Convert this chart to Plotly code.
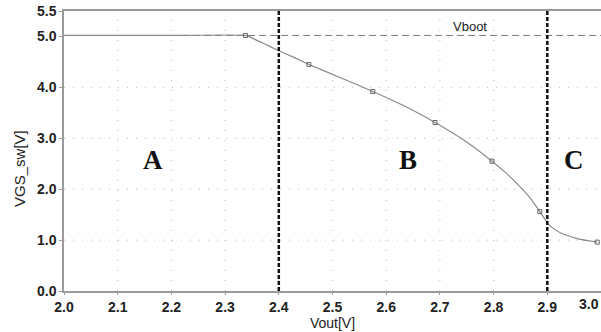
import plotly.graph_objects as go

# Gate drive voltage of the switch versus output voltage
vout = [2.00, 2.20, 2.338, 2.37, 2.40, 2.43, 2.456, 2.515, 2.575, 2.635, 2.691,
        2.745, 2.797, 2.825, 2.850, 2.870, 2.886, 2.900, 2.910, 2.925, 2.940,
        2.955, 2.975, 2.993]
vgs = [5.02, 5.02, 5.02, 4.87, 4.72, 4.58, 4.45, 4.19, 3.92, 3.63, 3.31,
       2.96, 2.55, 2.30, 2.04, 1.80, 1.56, 1.34, 1.24, 1.14, 1.08,
       1.03, 0.99, 0.96]

# Sampled simulation points shown with square markers
mark_x = [2.338, 2.456, 2.575, 2.691, 2.797, 2.886, 2.993]
mark_y = [5.02, 4.45, 3.92, 3.31, 2.55, 1.56, 0.96]

# Bootstrap supply level
vboot_x = [2.22, 3.02]
vboot_y = [5.02, 5.02]

# Region boundaries and region names
bounds = [2.4, 2.9]
region_names = ["A", "B", "C"]
region_x = [2.166, 2.64, 2.95]
region_y = [2.57, 2.57, 2.57]

x_ticks = [2.0, 2.1, 2.2, 2.3, 2.4, 2.5, 2.6, 2.7, 2.8, 2.9, 3.0]
y_ticks = [0.0, 1.0, 2.0, 3.0, 4.0, 5.0, 5.5]

grid_col = "#b8b8b8"
curve_col = "#8a8a8a"
text_col = "#222222"

fig = go.Figure()

# dotted grid
for gx in x_ticks[1:-1]:
    fig.add_trace(go.Scatter(x=[gx, gx], y=[0, 5.5], mode="lines",
                             line=dict(color=grid_col, width=1, dash="1px,9px"),
                             hoverinfo="skip", showlegend=False))
for gy in y_ticks[1:5]:
    fig.add_trace(go.Scatter(x=[2.0, 3.0], y=[gy, gy], mode="lines",
                             line=dict(color=grid_col, width=1, dash="1px,8px"),
                             hoverinfo="skip", showlegend=False))

fig.add_trace(go.Scatter(x=vboot_x, y=vboot_y, mode="lines",
                         line=dict(color="#7a7a7a", width=1, dash="7px,4px"),
                         showlegend=False))

fig.add_trace(go.Scatter(x=vout, y=vgs, mode="lines",
                         line=dict(color=curve_col, width=1.2, shape="spline", smoothing=0.3),
                         showlegend=False))
fig.add_trace(go.Scatter(x=mark_x, y=mark_y, mode="markers",
                         marker=dict(symbol="square-open", size=4, color="#666666",
                                     line=dict(width=1)),
                         showlegend=False))

for bx in bounds:
    fig.add_trace(go.Scatter(x=[bx, bx], y=[0, 5.5], mode="lines",
                             line=dict(color="#111111", width=2.5, dash="4px,2px"),
                             showlegend=False))

for name, rx, ry in zip(region_names, region_x, region_y):
    fig.add_annotation(x=rx, y=ry, text="<b>" + name + "</b>", showarrow=False,
                       font=dict(family="Liberation Serif", size=27, color="#111111"))

fig.add_annotation(x=2.756, y=5.02, text="Vboot", showarrow=False, yanchor="bottom",
                   yshift=-1, font=dict(family="Liberation Sans", size=13, color=text_col))

# last x tick label, kept inside the right edge
fig.add_annotation(xref="paper", x=1.0, xanchor="right", y=0, yref="y",
                   text="<b>3.0</b>", showarrow=False, yanchor="top", yshift=-3,
                   font=dict(family="Liberation Sans", size=14, color=text_col))

# y-axis title
fig.add_annotation(xref="paper", yref="paper", x=(20 - 64) / 537, y=0.436,
                   xanchor="center", yanchor="middle",
                   text="VGS_sw[V]", textangle=-90, showarrow=False,
                   font=dict(family="Liberation Sans", size=15, color=text_col))

fig.update_layout(
    width=601, height=332,
    margin=dict(l=64, r=0, t=11, b=41),
    plot_bgcolor="white", paper_bgcolor="white",
    xaxis=dict(range=[2.0, 3.0], tickvals=x_ticks[:-1],
               ticktext=["<b>%.1f</b>" % v for v in x_ticks[:-1]],
               showgrid=False, zeroline=False, showline=True, mirror=True,
               linecolor="#9a9a9a", linewidth=1.5, ticks="outside", ticklen=2,
               tickcolor="#9a9a9a",
               tickfont=dict(family="Liberation Sans", size=14, color=text_col),
               title=dict(text="Vout[V]", standoff=0,
                          font=dict(family="Liberation Sans", size=14, color=text_col))),
    yaxis=dict(range=[0, 5.5], tickvals=y_ticks,
               ticktext=["<b>%.1f</b>" % v for v in y_ticks],
               showgrid=False, zeroline=False, showline=True,
               linecolor="#9a9a9a", linewidth=1.5, ticks="outside", ticklen=3,
               tickcolor="#9a9a9a",
               tickfont=dict(family="Liberation Sans", size=14, color=text_col)),
)

fig.write_html("out.html")
